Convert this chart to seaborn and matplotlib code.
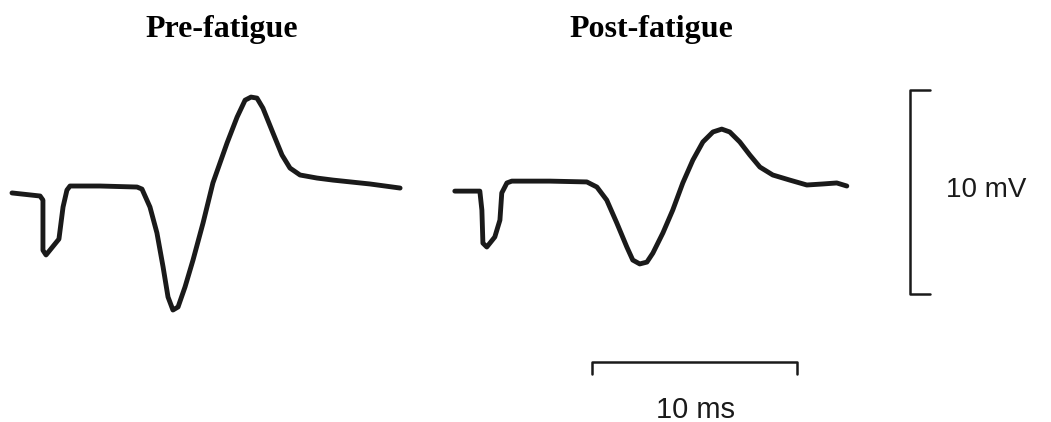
import numpy as np
import pandas as pd
import matplotlib
matplotlib.use("Agg")
import matplotlib.pyplot as plt
import seaborn as sns

# M-wave traces (time in ms, amplitude in mV)
pre_t = [0, 1.37, 1.51, 1.51, 1.66, 2.29, 2.49, 2.68, 2.83, 4.29, 6.10, 6.34, 6.73,
         7.07, 7.37, 7.61, 7.85, 8.10, 8.44, 8.83, 9.32, 9.80, 10.49, 10.98, 11.37,
         11.66, 11.95, 12.24, 12.73, 13.17, 13.56, 14.05, 14.88, 15.66, 17.46, 18.93]
pre_v = [-0.29, -0.44, -0.64, -3.10, -3.33, -2.55, -0.98, -0.15, 0.05, 0.05, 0.0, -0.10, -0.98,
         -2.25, -3.92, -5.39, -6.03, -5.88, -4.90, -3.58, -1.76, 0.20, 2.16, 3.43, 4.26,
         4.41, 4.36, 3.87, 2.65, 1.57, 0.93, 0.59, 0.44, 0.34, 0.15, -0.05]

post_t = [0, 1.22, 1.32, 1.37, 1.56, 1.95, 2.20, 2.29, 2.54, 2.78, 4.63, 6.44, 6.93,
          7.41, 7.90, 8.39, 8.68, 9.02, 9.37, 9.66, 10.15, 10.63, 11.12, 11.61, 12.10,
          12.59, 13.02, 13.41, 13.90, 14.39, 14.88, 15.51, 16.34, 17.17, 17.95, 18.63, 19.12]
post_v = [-0.20, -0.20, -1.13, -2.75, -2.94, -2.45, -1.62, -0.29, 0.20, 0.29, 0.29, 0.25, 0.0,
          -0.64, -1.76, -2.94, -3.58, -3.77, -3.68, -3.24, -2.25, -1.13, 0.20, 1.32, 2.21,
          2.70, 2.84, 2.70, 2.21, 1.57, 0.98, 0.59, 0.34, 0.10, 0.15, 0.20, 0.05]

titles = ["Pre-fatigue", "Post-fatigue"]
bar_ms = 10
bar_mv = 10

post_shift = 21.6  # ms, horizontal placement of the second trace

df = pd.concat([
    pd.DataFrame({"t": pre_t, "v": pre_v, "cond": titles[0]}),
    pd.DataFrame({"t": np.array(post_t) + post_shift, "v": post_v, "cond": titles[1]}),
])

sns.set_theme(style="white")
fig = plt.figure(figsize=(10.51, 4.22), dpi=100)
ax = fig.add_axes([0, 0, 1, 1])

sns.lineplot(data=df, x="t", y="v", units="cond", estimator=None, sort=False,
             color="#1a1a1a", linewidth=3.5, ax=ax, legend=False,
             solid_capstyle="round", solid_joinstyle="round")

ax.set_xlim(-0.585, 50.68)
ax.set_ylim(-11.52, 9.17)
ax.axis("off")

# scale bars
k = "#1a1a1a"
vx, vtop = 43.8, 4.75
ax.plot([vx + 1.0, vx, vx, vx + 1.0], [vtop, vtop, vtop - bar_mv, vtop - bar_mv], color=k, lw=1.8)
hx, hy = 28.3, -8.58
ax.plot([hx, hx, hx + bar_ms, hx + bar_ms], [hy - 0.6, hy, hy, hy - 0.6], color=k, lw=1.8)

ax.text(vx + 1.75, vtop - bar_mv / 2 + 0.1, f"{bar_mv} mV", fontsize=20, family="Liberation Sans",
        va="center", ha="left", color=k)
fig.text(0.662, 1 - 410 / 422, f"{bar_ms} ms", fontsize=21, family="Liberation Sans",
         va="center", ha="center", color=k)

fig.text(0.211, 0.929, titles[0], fontsize=23, fontweight="bold", family="Liberation Serif",
         ha="center", va="center", color="black")
fig.text(0.620, 0.929, titles[1], fontsize=23, fontweight="bold", family="Liberation Serif",
         ha="center", va="center", color="black")

fig.savefig("out.png", dpi=100)
